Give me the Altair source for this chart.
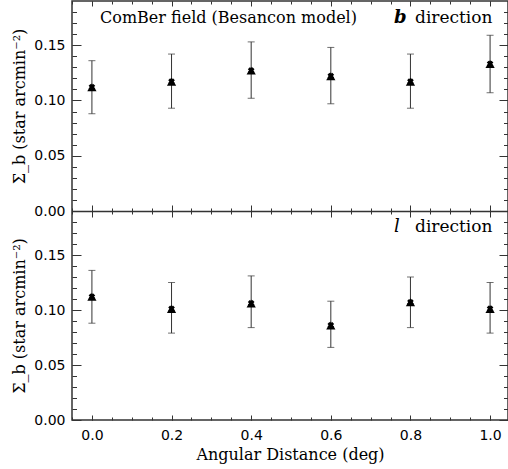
import altair as alt
import pandas as pd

# ---------------- data ----------------
dist = [0.0, 0.2, 0.4, 0.6, 0.8, 1.0]

b_val = [0.112, 0.117, 0.127, 0.122, 0.117, 0.133]
b_lo = [0.088, 0.093, 0.102, 0.097, 0.093, 0.107]
b_hi = [0.136, 0.142, 0.153, 0.148, 0.142, 0.159]

l_val = [0.112, 0.101, 0.106, 0.086, 0.107, 0.101]
l_lo = [0.088, 0.079, 0.084, 0.066, 0.084, 0.079]
l_hi = [0.136, 0.125, 0.131, 0.108, 0.130, 0.125]

x_major = [0.0, 0.2, 0.4, 0.6, 0.8, 1.0]
x_minor = [-0.05, 0.0, 0.05, 0.1, 0.15, 0.2, 0.25, 0.3, 0.35, 0.4, 0.45, 0.5,
           0.55, 0.6, 0.65, 0.7, 0.75, 0.8, 0.85, 0.9, 0.95, 1.0]
y_major = [0.0, 0.05, 0.10, 0.15]
y_minor = [0.0, 0.01, 0.02, 0.03, 0.04, 0.05, 0.06, 0.07, 0.08, 0.09, 0.10,
           0.11, 0.12, 0.13, 0.14, 0.15, 0.16, 0.17, 0.18]

x_title = "Angular Distance (deg)"
y_title = "Σ_b (star arcmin⁻²)"
field_label = "ComBer field (Besancon model)"
dir_letters = ["b", "l"]
dir_word = "direction"

# ---------------- layout ----------------
W, H = 436, 419
XDOM = [-0.05, 1.045]
YDOM = [0.0, 0.19]
MID = 210
RANGES = {"b": [MID, 0], "l": [H, MID]}
INK = "#333333"

df = pd.concat([
    pd.DataFrame({"x": dist, "y": b_val, "lo": b_lo, "hi": b_hi, "panel": "b"}),
    pd.DataFrame({"x": dist, "y": l_val, "lo": l_lo, "hi": l_hi, "panel": "l"}),
], ignore_index=True)


def xs(axis=None):
    return alt.X("x:Q", scale=alt.Scale(domain=XDOM, nice=False, zero=False), axis=axis)


def ys(panel, field="y", axis=None):
    return alt.Y(f"{field}:Q",
                 scale=alt.Scale(domain=YDOM, range=RANGES[panel], nice=False, zero=False),
                 axis=axis)


def tick_axis(orient, values, size, offset):
    return alt.Axis(orient=orient, values=values, tickSize=size, offset=offset,
                    labels=False, domain=False, grid=False, title=None,
                    tickColor=INK, tickWidth=1)


def host(panel, xaxis=None, yaxis=None):
    return alt.Chart(df[df.panel == panel]).mark_point(opacity=0).encode(
        x=xs(xaxis), y=ys(panel, axis=yaxis))


layers = []

# ---- x axes ----
XMAJ, XMIN = 5, 3
x_label_axis = alt.Axis(orient="bottom", values=x_major, format=".1f", ticks=False, tickSize=0,
                        domain=False, grid=False, labelPadding=8, labelFont="DejaVu Sans",
                        labelFontSize=14, labelColor="black", title=x_title,
                        titleFont="DejaVu Serif", titleFontSize=16, titleFontWeight="normal",
                        titleColor="black", titlePadding=4, labelFlush=False, labelOverlap=False)
layers.append(host("l", xaxis=x_label_axis))
layers.append(host("l", xaxis=tick_axis("bottom", x_major, XMAJ, -XMAJ)))
layers.append(host("l", xaxis=tick_axis("bottom", x_minor, XMIN, -XMIN)))
layers.append(host("b", xaxis=tick_axis("top", x_major, XMAJ, -XMAJ)))
layers.append(host("b", xaxis=tick_axis("top", x_minor, XMIN, -XMIN)))
# middle boundary: crossing ticks
layers.append(host("b", xaxis=tick_axis("bottom", x_major, 2 * 6, (MID - H) - 6)))
layers.append(host("b", xaxis=tick_axis("bottom", x_minor, 2 * 3, (MID - H) - 3)))
# middle boundary line
layers.append(host("b", xaxis=alt.Axis(orient="bottom", offset=(MID - H), domain=True,
                                       domainColor=INK, domainWidth=1.5, ticks=False,
                                       labels=False, grid=False, title=None)))

# ---- y axes ----
YMAJ, YMIN = 9, 4.5
for p in ["b", "l"]:
    y_label_axis = alt.Axis(orient="left", values=y_major, format=".2f", ticks=False, tickSize=0,
                            domain=False, grid=False, labelPadding=7, labelFont="DejaVu Sans",
                            labelFontSize=14, labelColor="black", title=y_title,
                            titleFont="DejaVu Serif", titleFontSize=16, titleFontWeight="normal",
                            titleColor="black", titlePadding=6, labelFlush=False,
                            labelOverlap=False)
    layers.append(host(p, yaxis=y_label_axis))
    layers.append(host(p, yaxis=tick_axis("left", y_major, YMAJ, -YMAJ)))
    layers.append(host(p, yaxis=tick_axis("left", y_minor, YMIN, -YMIN)))
    layers.append(host(p, yaxis=tick_axis("right", y_major, YMAJ, -YMAJ)))
    layers.append(host(p, yaxis=tick_axis("right", y_minor, YMIN, -YMIN)))

# ---- data marks ----
for p in ["b", "l"]:
    d = alt.Chart(df[df.panel == p])
    layers.append(d.mark_rule(color=INK, strokeWidth=1).encode(
        x=xs(), y=ys(p, "lo"), y2="hi:Q"))
    layers.append(d.mark_tick(orient="horizontal", color=INK, size=7, thickness=1).encode(
        x=xs(), y=ys(p, "lo")))
    layers.append(d.mark_tick(orient="horizontal", color=INK, size=7, thickness=1).encode(
        x=xs(), y=ys(p, "hi")))
    layers.append(d.mark_point(shape="triangle-up", filled=True, color="black", size=85,
                               opacity=1).encode(x=xs(), y=ys(p)))
    layers.append(d.mark_point(shape="cross", angle=45, filled=True, color="black", size=45,
                               opacity=1).encode(x=xs(), y=ys(p)))

# ---- annotations ----
ann = alt.Chart(pd.DataFrame({"t": [field_label]})).mark_text(
    align="left", baseline="middle", font="DejaVu Serif", fontSize=16, color="black"
).encode(text="t:N", x=alt.value(28), y=alt.value(17))
layers.append(ann)

for letter, ypos, style in [(dir_letters[0], 17, "bold"), (dir_letters[1], 226, "normal")]:
    layers.append(alt.Chart(pd.DataFrame({"t": [letter]})).mark_text(
        align="left", baseline="middle", font="DejaVu Serif", fontSize=18, fontStyle="italic",
        fontWeight=style, color="black"
    ).encode(text="t:N", x=alt.value(322), y=alt.value(ypos)))
    layers.append(alt.Chart(pd.DataFrame({"t": [dir_word]})).mark_text(
        align="left", baseline="middle", font="DejaVu Serif", fontSize=17, color="black"
    ).encode(text="t:N", x=alt.value(343), y=alt.value(ypos)))

chart = alt.layer(*layers).resolve_scale(y="independent").resolve_axis(
    x="independent", y="independent"
).properties(
    width=W, height=H,
    autosize=alt.AutoSizeParams(type="none"),
    padding={"left": 72, "top": 1, "right": 0, "bottom": 49},
).configure_view(stroke=INK, strokeWidth=1.5).configure_axis(grid=False)

chart.save("out.html", embed_options={"renderer": "svg", "actions": False})
